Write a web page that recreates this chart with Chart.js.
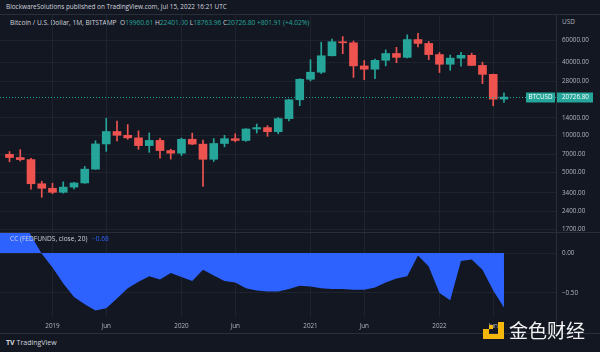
<!DOCTYPE html>
<html>
<head>
<meta charset="utf-8">
<script src="https://cdn.jsdelivr.net/npm/chart.js@4.4.1/dist/chart.umd.min.js"></script>
<style>
  body { margin: 0; width: 600px; height: 352px; background: #131722; position: relative; overflow: hidden;
         font-family: "Open Sans", sans-serif; color: #d1d4dc; }
  canvas { position: absolute; left: 0; }
  #price { top: 14px; }
  #corr { top: 232px; }
  .txt { position: absolute; font-size: 6.4px; white-space: nowrap; line-height: 8px; }
  #pub { left: 6px; top: 3px; }
  #sym { left: 10px; top: 19px; font-size: 6.6px; }
  #sym b { font-weight: normal; color: #26a69a; }
  #usd { left: 562px; top: 18px; color: #b2b5be; }
  #cc { left: 10px; top: 235px; font-size: 6.6px; }
  #cc b { font-weight: normal; color: #2d62ff; margin-left: 3px; }
  .line { position: absolute; background: #2a2e39; }
  #tv { left: 6px; top: 339px; font-size: 7px; line-height: 8px; }
  #tv span { font-weight: bold; margin-right: 2px; }
  #wm { position: absolute; left: 509px; top: 318px; font-family: "Noto Sans CJK SC", sans-serif;
        font-size: 19px; line-height: 24px; color: #f2f2f2; }
  .wl { position: absolute; background: #f5b70c; }
</style>
</head>
<body>
<div class="txt" id="pub">BlockwareSolutions published on TradingView.com, Jul 15, 2022 16:21 UTC</div>
<div class="txt" id="sym"></div>
<div class="txt" id="usd">USD</div>
<canvas id="price" width="600" height="218"></canvas>
<canvas id="corr" width="600" height="101"></canvas>
<div class="txt" id="cc"></div>
<div class="line" style="left:0;top:232px;width:600px;height:1px"></div>
<div class="line" style="left:0;top:333px;width:600px;height:1px"></div>
<div class="line" style="left:556px;top:14px;width:1px;height:319px"></div>
<div class="line" style="left:0;top:14px;width:600px;height:1px"></div>
<div class="txt" id="tv"><span>TV</span>TradingView</div>
<div class="wl" style="left:498px;top:322px;width:6px;height:17px"></div>
<div class="wl" style="left:483px;top:334px;width:21px;height:5px"></div>
<div class="wl" style="left:483px;top:329px;width:6px;height:5px"></div>
<div class="wl" style="left:489px;top:325px;width:4px;height:4px"></div>
<div id="wm">金色财经</div>
<script>
// monthly BTCUSD (Bitstamp), Sep 2018 .. Jul 2022
const months = ["2018-09","2018-10","2018-11","2018-12",
  "2019-01","2019-02","2019-03","2019-04","2019-05","2019-06","2019-07","2019-08","2019-09","2019-10","2019-11","2019-12",
  "2020-01","2020-02","2020-03","2020-04","2020-05","2020-06","2020-07","2020-08","2020-09","2020-10","2020-11","2020-12",
  "2021-01","2021-02","2021-03","2021-04","2021-05","2021-06","2021-07","2021-08","2021-09","2021-10","2021-11","2021-12",
  "2022-01","2022-02","2022-03","2022-04","2022-05","2022-06","2022-07"];
const opens = [7037, 6626, 6371, 4041, 3709, 3437, 3791, 4100, 5320, 8560, 10820, 10080, 9600, 8300, 9150, 7560,
  7190, 9350, 8530, 6410, 8630, 9450, 9140, 11350, 11650, 10780, 13800, 19700, 28990, 33110, 45160, 58800,
  57700, 37300, 35040, 41460, 47150, 43820, 61300, 57000, 46200, 38480, 43190, 45540, 37640, 31800, 19960.61];
const highs = [7410, 7680, 6540, 4236, 4080, 4190, 4140, 5600, 9090, 13880, 13200, 12330, 10950, 10540, 9510, 7750,
  9570, 10500, 9190, 9470, 10080, 10380, 11450, 12470, 12070, 14100, 19880, 29300, 41950, 58350, 61790, 64900,
  59600, 41300, 42400, 50500, 52920, 67000, 69000, 59100, 47990, 45800, 48200, 47450, 40000, 31990, 22401.00];
const lows = [6111, 6200, 3652, 3128, 3350, 3380, 3660, 4070, 5320, 7440, 9080, 9350, 7730, 7300, 6530, 6430,
  6870, 8450, 3850, 6150, 8110, 8900, 8980, 10520, 9880, 10370, 13200, 17600, 28130, 32300, 45000, 47000,
  30000, 28800, 29280, 37330, 39600, 43300, 53300, 42000, 32900, 34320, 37160, 37580, 26700, 17600, 18763.96];
const closes = [6626, 6371, 4041, 3709, 3437, 3791, 4100, 5320, 8560, 10820, 10080, 9600, 8300, 9150, 7560, 7190,
  9350, 8530, 6410, 8630, 9450, 9140, 11350, 11650, 10780, 13800, 19700, 28990, 33110, 45160, 58800, 57700,
  37300, 35040, 41460, 47150, 43820, 61300, 57000, 46200, 38480, 43190, 45540, 37640, 31800, 19924.89, 20726.80];

// CC(FEDFUNDS, close, 20), starts one month earlier (Aug 2018)
const corrStart = -1;
const corr = [0.55, 0.52, 0.48, 0.22, -0.01, -0.18, -0.38, -0.55, -0.64, -0.72, -0.69, -0.57, -0.44, -0.36, -0.29, -0.33,
  -0.25, -0.30, -0.35, -0.21, -0.28, -0.35, -0.37, -0.44, -0.47, -0.48, -0.48, -0.45, -0.41, -0.42, -0.44, -0.45,
  -0.45, -0.46, -0.46, -0.43, -0.37, -0.32, -0.29, -0.03, -0.17, -0.50, -0.59, -0.10, -0.08, -0.21, -0.47, -0.68];

const priceTicks = [60000, 40000, 28000, 14000, 10000, 7000, 5000, 3400, 2400, 1700];
const corrTicks = [0, -0.5];

const UP = "#26a69a", DOWN = "#ef5350", GRID = "#1f2330", LABEL = "#b2b5be";
const last = closes.length - 1;

// header legend from the last candle
const chg = closes[last] - closes[last - 1];
document.getElementById("sym").innerHTML = "Bitcoin / U.S. Dollar, 1M, BITSTAMP&nbsp; O<b>" + opens[last].toFixed(2) +
  "</b>&nbsp;H<b>" + highs[last].toFixed(2) + "</b>&nbsp;L<b>" + lows[last].toFixed(2) + "</b>&nbsp;C<b>" +
  closes[last].toFixed(2) + "</b>&nbsp;<b>+" + chg.toFixed(2) + " (+" + (chg / closes[last - 1] * 100).toFixed(2) + "%)</b>";
document.getElementById("cc").innerHTML = "CC (FEDFUNDS, close, 20) <b>" +
  corr[corr.length - 1].toFixed(2).replace("-", "\u2212") + "</b>";

const xTicks = [], xTickText = [];
months.forEach((m, i) => {
  if (m.endsWith("-01")) { xTicks.push(i); xTickText.push(m.slice(0, 4)); }
  if (m.endsWith("-06")) { xTicks.push(i); xTickText.push("Jun"); }
});

// keep the plot area flush with the canvas edges
const noPad = s => { s.paddingTop = 0; s.paddingBottom = 0; s.paddingLeft = 0; s.paddingRight = 0; };

const font = { family: "'Open Sans', sans-serif", size: 6.3 };
const xAxis = (showLabels) => ({
  type: "linear", min: -0.884, max: 50.84, offset: false,
  afterBuildTicks: s => { s.ticks = xTicks.map(v => ({ value: v })); },
  afterFit: s => { s.height = showLabels ? 16 : 0; noPad(s); },
  ticks: { display: showLabels, color: LABEL, font, padding: 5, maxRotation: 0, autoSkip: false,
           callback: (v, i) => xTickText[i] },
  grid: { color: GRID, drawTicks: false, offset: false },
  border: { display: false }
});
const colorOf = c => closes[c.dataIndex] >= opens[c.dataIndex] ? UP : DOWN;

Chart.defaults.font.family = "'Open Sans', sans-serif";

const priceLine = {
  id: "priceLine",
  afterDraw(chart) {
    const { ctx, chartArea: a, scales: { y } } = chart;
    const py = Math.round(y.getPixelForValue(closes[last])) + 0.5;
    ctx.save();
    ctx.strokeStyle = UP; ctx.lineWidth = 1; ctx.setLineDash([1, 2]);
    ctx.beginPath(); ctx.moveTo(a.left, py); ctx.lineTo(a.right, py); ctx.stroke();
    ctx.setLineDash([]);
    ctx.fillStyle = UP;
    ctx.fillRect(a.right - 30, py - 5, 29, 10);
    ctx.fillRect(a.right + 1, py - 5, 36, 10);
    ctx.fillStyle = "#ffffff"; ctx.font = "6.3px 'Open Sans', sans-serif"; ctx.textBaseline = "middle";
    ctx.textAlign = "center"; ctx.fillText("BTCUSD", a.right - 15.5, py);
    ctx.textAlign = "left"; ctx.fillText(closes[last].toFixed(2), a.right + 6, py);
    ctx.restore();
  }
};

new Chart(document.getElementById("price"), {
  type: "bar",
  data: {
    datasets: [
      { data: opens.map((o, i) => ({ x: i, y: [o, closes[i]] })), backgroundColor: colorOf,
        barThickness: 8, grouped: false, minBarLength: 1 },
      { data: lows.map((l, i) => ({ x: i, y: [l, highs[i]] })), backgroundColor: colorOf,
        barThickness: 1, grouped: false }
    ]
  },
  options: {
    responsive: false, animation: false, layout: { padding: 0 },
    plugins: { legend: { display: false }, tooltip: { enabled: false } },
    scales: {
      x: xAxis(false),
      y: {
        type: "logarithmic", position: "right", min: 1626, max: 99290,
        afterBuildTicks: s => { s.ticks = priceTicks.map(v => ({ value: v })); },
        afterFit: s => { s.width = 44; noPad(s); },
        ticks: { color: LABEL, font, padding: 6, autoSkip: false, callback: v => Number(v).toFixed(2) },
        grid: { color: GRID, drawTicks: false },
        border: { display: false }
      }
    }
  },
  plugins: [priceLine]
});

new Chart(document.getElementById("corr"), {
  type: "line",
  data: {
    datasets: [{
      data: corr.map((v, k) => ({ x: k + corrStart, y: v })),
      borderWidth: 0, pointRadius: 0, tension: 0,
      fill: "origin", backgroundColor: "#2d62ff"
    }]
  },
  options: {
    responsive: false, animation: false, layout: { padding: 0 },
    plugins: { legend: { display: false }, tooltip: { enabled: false } },
    scales: {
      x: xAxis(true),
      y: {
        type: "linear", position: "right", min: -0.8, max: 0.2625,
        afterBuildTicks: s => { s.ticks = corrTicks.map(v => ({ value: v })); },
        afterFit: s => { s.width = 44; noPad(s); },
        ticks: { color: LABEL, font, padding: 6, callback: v => v.toFixed(2).replace("-", "\u2212") },
        grid: { color: GRID, drawTicks: false },
        border: { display: false }
      }
    }
  }
});
</script>
</body>
</html>
